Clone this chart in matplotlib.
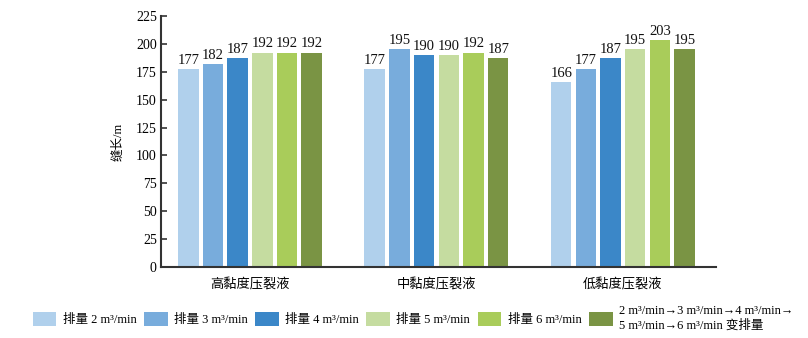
import matplotlib.pyplot as plt
import numpy as np

plt.rcParams['font.family'] = ['Liberation Serif', 'Noto Sans CJK SC']

# Crack length per fracturing fluid and injection rate
groups = ['高黏度压裂液', '中黏度压裂液', '低黏度压裂液']
series_labels = [
    '排量 2 m³/min',
    '排量 3 m³/min',
    '排量 4 m³/min',
    '排量 5 m³/min',
    '排量 6 m³/min',
    '2 m³/min→3 m³/min→4 m³/min→\n5 m³/min→6 m³/min 变排量',
]
rate_2 = [177, 177, 166]
rate_3 = [182, 195, 177]
rate_4 = [187, 190, 187]
rate_5 = [192, 190, 195]
rate_6 = [192, 192, 203]
rate_var = [192, 187, 195]
series = [rate_2, rate_3, rate_4, rate_5, rate_6, rate_var]
colors = ['#b0d0ec', '#78acdc', '#3b87c8', '#c5dca0', '#a9cc5a', '#7a9444']

fig = plt.figure(figsize=(8.08, 3.38), dpi=100)
ax = fig.add_axes([0.1993, 0.210, 0.687, 0.743])

x = np.arange(len(groups))
step = 0.1324
width = 0.11
for i, (vals, c, lab) in enumerate(zip(series, colors, series_labels)):
    pos = x + (i - 2.5) * step
    bars = ax.bar(pos, vals, width=width, color=c, label=lab)
    for b, v in zip(bars, vals):
        ax.text(b.get_x() + b.get_width() / 2, v + 2, str(v),
                ha='center', va='bottom', fontsize=10.5, color='#111111')

ax.set_xlim(-0.477, 2.5)
ax.set_ylim(0, 225)
ax.set_yticks(np.arange(0, 226, 25))
ax.set_xticks(x)
ax.set_xticklabels(groups, fontsize=9.5)
ax.tick_params(axis='x', length=0, pad=8)
ax.tick_params(axis='y', direction='in', length=4, width=1.2, labelsize=10, pad=3,
               color='#333333')
ax.set_ylabel('缝长/m', fontsize=9, labelpad=8)

for s in ['top', 'right']:
    ax.spines[s].set_visible(False)
for s in ['left', 'bottom']:
    ax.spines[s].set_linewidth(1.5)
    ax.spines[s].set_color('#333333')

fig.legend(loc='center', bbox_to_anchor=(0.511, 0.058), ncol=6, frameon=False,
           fontsize=9, handlelength=1.9, handleheight=1.3, handletextpad=0.5,
           columnspacing=0.6)

fig.savefig('out.png', dpi=100)
